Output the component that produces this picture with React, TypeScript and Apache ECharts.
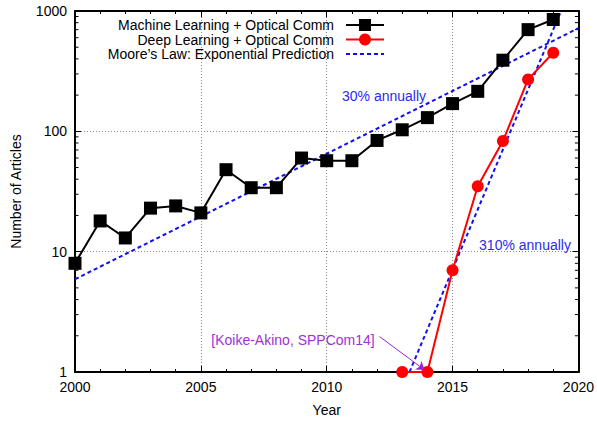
import React, { useEffect, useRef } from "react";
import * as echarts from "echarts";

const YEARS_ML = [2000, 2001, 2002, 2003, 2004, 2005, 2006, 2007, 2008, 2009, 2010, 2011, 2012, 2013, 2014, 2015, 2016, 2017, 2018, 2019];
const ML_VALUES = [8, 18, 13, 23, 24, 21, 48, 34, 34, 60, 57, 57, 84, 103, 130, 170, 215, 390, 700, 850];
const YEARS_DL = [2013, 2014, 2015, 2016, 2017, 2018, 2019];
const DL_VALUES = [1, 1, 7, 35, 83, 270, 450];
const MOORE_30 = [[2000, 5.9], [2020, 720]];
const MOORE_310 = [[2013.29, 1], [2019.31, 1000]];
const ARROW_FROM = [2012.1, 1.97];
const ARROW_TO = [2013.89, 1.04];
const MINOR_Y_TICKS = [2, 3, 4, 5, 6, 7, 8, 9, 20, 30, 40, 50, 60, 70, 80, 90, 200, 300, 400, 500, 600, 700, 800, 900];

const NAME_ML = "Machine Learning + Optical Comm";
const NAME_DL = "Deep Learning + Optical Comm";
const NAME_MOORE = "Moore\u2019s Law: Exponential Prediction";
const FONT = "Liberation Sans";

export default function App() {
  const ref = useRef<HTMLDivElement>(null);
  useEffect(() => {
    document.body.style.margin = "0";
    const chart = echarts.init(ref.current!, null, { renderer: "svg" });
    const axisCommonX = {
      type: "value",
      min: 2000,
      max: 2020,
      interval: 5,
      axisLine: { show: true, lineStyle: { color: "#000", width: 2 } },
      axisTick: { show: true, inside: true, length: 6, lineStyle: { color: "#000" } },
      minorTick: { show: true, splitNumber: 5, length: 3, lineStyle: { color: "#000" } },
    };
    const option: any = {
      animation: false,
      textStyle: { fontFamily: FONT },
      grid: { left: 75, right: 18, top: 11, bottom: 45, containLabel: false },
      legend: {
        orient: "vertical",
        align: "right",
        right: 207,
        top: 13,
        itemWidth: 38,
        itemHeight: 15,
        itemGap: 0.5,
        textStyle: { fontFamily: FONT, fontSize: 14, color: "#000", padding: [0, 7, 0, 0] },
        data: [
          { name: NAME_ML },
          { name: NAME_DL },
          { name: NAME_MOORE, itemStyle: { opacity: 0 } },
        ],
      },
      xAxis: [
        {
          ...axisCommonX,
          position: "bottom",
          name: "Year",
          nameLocation: "middle",
          nameGap: 31,
          nameTextStyle: { fontSize: 14, color: "#000", fontFamily: FONT },
          axisLabel: { fontSize: 14, color: "#000", margin: 8, formatter: (v: number) => String(v) },
          splitLine: { show: true, lineStyle: { color: "#888", type: [1, 2], width: 1 } },
        },
        {
          ...axisCommonX,
          position: "top",
          axisLabel: { show: false },
          splitLine: { show: false },
        },
      ],
      yAxis: [
        {
          type: "log",
          logBase: 10,
          min: 1,
          max: 1000,
          position: "left",
          name: "Number of Articles",
          nameLocation: "middle",
          nameGap: 52,
          nameTextStyle: { fontSize: 14, color: "#000", fontFamily: FONT },
          axisLine: { show: true, lineStyle: { color: "#000", width: 2 } },
          axisTick: { show: true, inside: true, length: 6, lineStyle: { color: "#000" } },
          axisLabel: { fontSize: 14, color: "#000", margin: 8, formatter: (v: number) => String(Math.round(v)) },
          splitLine: { show: true, lineStyle: { color: "#888", type: [1, 2], width: 1 } },
        },
        {
          type: "log",
          logBase: 10,
          min: 1,
          max: 1000,
          position: "right",
          axisLine: { show: true, lineStyle: { color: "#000", width: 2 } },
          axisTick: { show: true, inside: true, length: 6, lineStyle: { color: "#000" } },
          axisLabel: { show: false },
          splitLine: { show: false },
        },
      ],
      series: [
        {
          type: "custom",
          name: "minorY",
          silent: true,
          clip: false,
          data: MINOR_Y_TICKS.map((v) => [2000, v]),
          renderItem: (params: any, api: any) => {
            const p = api.coord([2000, api.value(1)]);
            const cs = params.coordSys;
            return {
              type: "group",
              children: [
                { type: "line", shape: { x1: cs.x, y1: p[1], x2: cs.x + 3.5, y2: p[1] }, style: { stroke: "#000", lineWidth: 1 } },
                { type: "line", shape: { x1: cs.x + cs.width - 3.5, y1: p[1], x2: cs.x + cs.width, y2: p[1] }, style: { stroke: "#000", lineWidth: 1 } },
              ],
            };
          },
        },
        {
          type: "line",
          name: NAME_MOORE,
          data: MOORE_30,
          showSymbol: false,
          symbol: "none",
          lineStyle: { color: "#1010f0", width: 2, type: [4, 3] },
          itemStyle: { color: "#1010f0" },
        },
        {
          type: "line",
          name: NAME_MOORE,
          data: MOORE_310,
          showSymbol: false,
          symbol: "none",
          lineStyle: { color: "#1010f0", width: 2, type: [4, 3] },
          itemStyle: { color: "#1010f0" },
        },
        {
          type: "line",
          name: NAME_ML,
          data: YEARS_ML.map((y, i) => [y, ML_VALUES[i]]),
          symbol: "rect",
          symbolSize: 13,
          clip: false,
          lineStyle: { color: "#000", width: 2 },
          itemStyle: { color: "#000" },
        },
        {
          type: "line",
          name: NAME_DL,
          data: YEARS_DL.map((y, i) => [y, DL_VALUES[i]]),
          symbol: "circle",
          symbolSize: 12,
          clip: false,
          lineStyle: { color: "#ff0000", width: 2 },
          itemStyle: { color: "#ff0000" },
          markLine: {
            silent: true,
            symbol: ["none", "arrow"],
            symbolSize: 8,
            label: { show: false },
            lineStyle: { color: "#9a22d8", width: 1, type: "solid" },
            data: [[{ coord: ARROW_FROM }, { coord: ARROW_TO }]],
          },
        },
      ],
      graphic: [
        {
          type: "text",
          x: 384,
          y: 96,
          style: { text: "30% annually", fill: "#2b2bf0", font: `14px "${FONT}"`, align: "center", verticalAlign: "middle" },
        },
        {
          type: "text",
          x: 525,
          y: 245,
          style: { text: "310% annually", fill: "#2b2bf0", font: `14px "${FONT}"`, align: "center", verticalAlign: "middle" },
        },
        {
          type: "text",
          x: 293,
          y: 340,
          style: { text: "[Koike-Akino, SPPCom14]", fill: "#a030d8", font: `14px "${FONT}"`, align: "center", verticalAlign: "middle" },
        },
      ],
    };
    chart.setOption(option);
    return () => chart.dispose();
  }, []);
  return <div ref={ref} style={{ width: 597, height: 422 }} />;
}
